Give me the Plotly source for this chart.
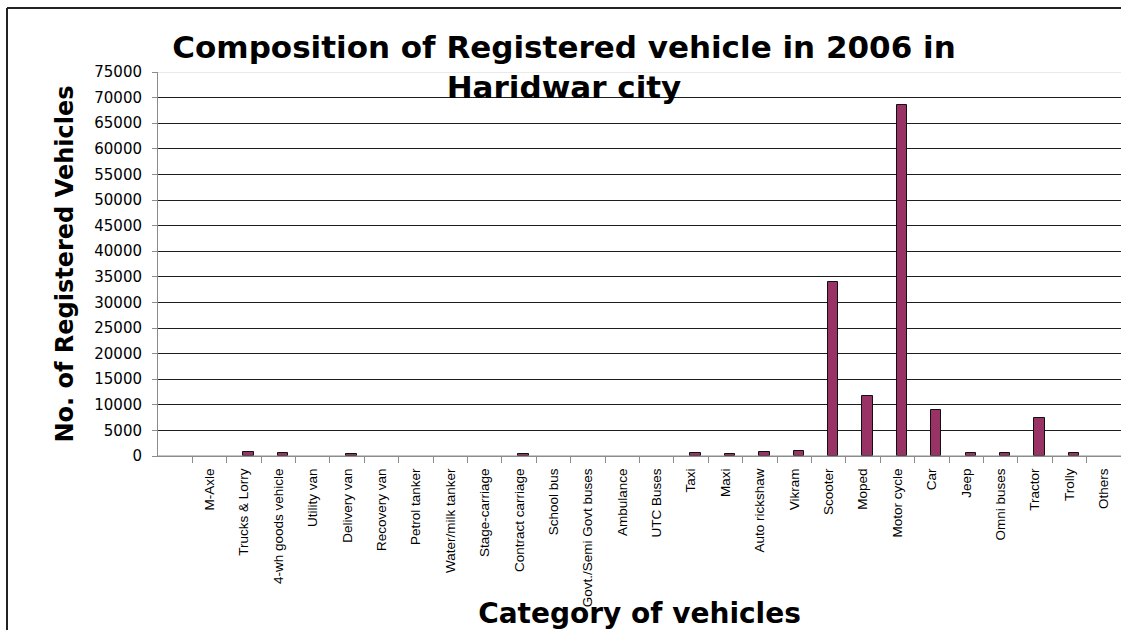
import plotly.graph_objects as go

# Registered vehicles by category, Haridwar city, 2006
categories = [
    "M-Axle", "Trucks & Lorry", "4-wh goods vehicle", "Utility van",
    "Delivery van", "Recovery van", "Petrol tanker", "Water/milk tanker",
    "Stage-carriage", "Contract carriage", "School bus",
    "Govt./Semi Govt buses", "Ambulance", "UTC Buses", "Taxi", "Maxi",
    "Auto rickshaw", "Vikram", "Scooter", "Moped", "Motor cycle", "Car",
    "Jeep", "Omni buses", "Tractor", "Trolly", "Others",
]
registered = [
    0, 700, 500, 0,
    300, 0, 0, 0,
    0, 300, 0,
    0, 0, 0, 500, 330,
    700, 1000, 34000, 11800, 68600, 8900,
    500, 500, 7500, 500, 0,
]
y_ticks = list(range(0, 75001, 5000))

BAR_COLOR = "#993366"
GRID_COLOR = "#1e1e1e"
AXIS_COLOR = "#8c8c8c"
TITLE_FONT = "DejaVu Sans"
TICK_FONT = "Liberation Sans, Arial, sans-serif"

# empty categories get no outline, so nothing is drawn for them
outline_widths = [1 if v > 0 else 0 for v in registered]

fig = go.Figure(
    go.Bar(
        x=categories,
        y=registered,
        width=0.3,
        offset=-0.02,
        marker=dict(color=BAR_COLOR,
                    line=dict(color="#111111", width=outline_widths)),
        showlegend=False,
    )
)

fig.update_layout(
    width=1121,
    height=630,
    margin=dict(l=158, r=0, t=72, b=174),
    paper_bgcolor="white",
    plot_bgcolor="white",
    title=dict(
        text="Composition of Registered vehicle in 2006 in<br>Haridwar city",
        font=dict(family=TITLE_FONT, size=31, weight="bold", color="black"),
        x=564 / 1121,
        xanchor="center",
        xref="container",
        y=1 - 58 / 630,
        yanchor="top",
        yref="container",
    ),
    bargap=0,
)

fig.update_xaxes(
    type="category",
    categoryorder="array",
    categoryarray=categories,
    range=[-1.5, len(categories) - 0.5],
    tickson="boundaries",
    ticks="outside",
    ticklen=6,
    tickcolor=AXIS_COLOR,
    tickangle=-90,
    ticklabelstandoff=6,
    tickfont=dict(family=TICK_FONT, size=13.5, color="black"),
    showline=True,
    linecolor=AXIS_COLOR,
    linewidth=1,
    showgrid=False,
    title=dict(
        text="Category of vehicles",
        font=dict(family=TITLE_FONT, size=28, weight="bold", color="black"),
        standoff=0,
    ),
)

fig.update_yaxes(
    range=[0, 75000],
    tickvals=y_ticks,
    ticktext=[str(v) for v in y_ticks],
    ticks="outside",
    ticklen=5,
    tickcolor=AXIS_COLOR,
    ticklabelstandoff=7,
    tickfont=dict(family="DejaVu Sans", size=15, color="black"),
    showline=True,
    linecolor=AXIS_COLOR,
    linewidth=1,
    showgrid=True,
    gridcolor=GRID_COLOR,
    gridwidth=1,
    zeroline=False,
    title=dict(
        text="No. of Registered Vehicles",
        font=dict(family=TITLE_FONT, size=24, weight="bold", color="black"),
        standoff=13,
    ),
)

# Light upper edge of the plot area and grey baseline over the grid
fig.add_shape(type="line", xref="paper", yref="y", x0=0, x1=1, y0=75000, y1=75000,
              line=dict(color="#d4d4d4", width=1), layer="above")
fig.add_shape(type="line", xref="paper", yref="y", x0=0, x1=1, y0=0, y1=0,
              line=dict(color=AXIS_COLOR, width=1), layer="above")

# Chart frame: top and left edges only
FRAME_LEFT = -151 / 963
FRAME_TOP = 448 / 384
frame_line = dict(color="#222222", width=2)
fig.add_shape(type="line", xref="paper", yref="paper",
              x0=FRAME_LEFT, x1=1.05, y0=FRAME_TOP, y1=FRAME_TOP,
              line=frame_line, layer="below")
fig.add_shape(type="line", xref="paper", yref="paper",
              x0=FRAME_LEFT, x1=FRAME_LEFT, y0=FRAME_TOP, y1=-0.6,
              line=frame_line, layer="below")

fig.write_html("out.html", config={"displayModeBar": False})
